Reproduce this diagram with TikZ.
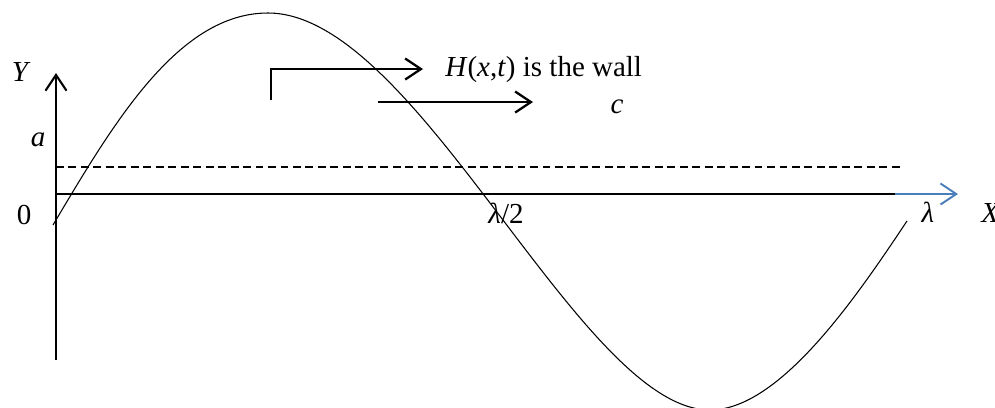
\documentclass[tikz,border=0pt]{standalone}
\usepackage{fontspec}
\setmainfont{Liberation Serif}
\usetikzlibrary{arrows.meta,positioning,calc}
\definecolor{axisblue}{HTML}{4A7EBB}

\begin{document}
\begin{tikzpicture}[x=0.02cm, y=-0.02cm,
  every node/.style={font=\fontsize{16.5}{19}\selectfont, inner sep=0pt},
  lbl/.style={font=\fontsize{16.5}{19}\selectfont\itshape},
  arr/.style={-{Straight Barb[length=9pt,width=12pt]}, line width=1.3pt},
  wave/.style={line width=0.6pt}
]
\useasboundingbox (0,0) rectangle (995,407);

\coordinate (ybot) at (56,360);
\coordinate (ytop) at (56,73);
\coordinate (orig) at (56,194);
\coordinate (xmid) at (895,194);
\coordinate (xtip) at (958,194);
\coordinate (dl)   at (56,167);
\coordinate (dr)   at (903,167);
\coordinate (w0)   at (271,100);
\coordinate (w1)   at (271,69);
\coordinate (w2)   at (423,69);
\coordinate (c0)   at (378,102);
\coordinate (c1)   at (533,102);

\draw[arr, line width=1.2pt] (ybot) -- (ytop);
\draw[line width=0.8pt] (orig) -- (xmid);
\draw[arr, draw=axisblue, line width=1.1pt] (xmid) -- (xtip);
\draw[line width=0.8pt, dash pattern=on 4.5pt off 2.6pt] (dl) -- (dr);

\draw[arr] (w0) -- (w1) -- (w2);
\draw[arr] (c0) -- (c1);

\draw[wave] (53,225) .. controls (113,124) and (178,13) .. (268,13)
  .. controls (418,13) and (580,410) .. (710,410)
  .. controls (780,410) and (857,296) .. (907,221);

\node[lbl] (ylab) at (20,72) {Y};
\node[lbl] (alab) at (38,140) {a};
\node (zero) at (24,215) {0};
\node (half) at (506,213) {\textit{λ}/2};
\node[lbl] (lam) at (928,212) {λ};
\node[lbl, anchor=west] (xlab) at (981,213) {X};
\node[anchor=west] (wall) at (445,70) {\textit{H}(\textit{x},\textit{t}) is the wall};
\node[lbl] (clab) at (617,107) {c};
\end{tikzpicture}
\end{document}
